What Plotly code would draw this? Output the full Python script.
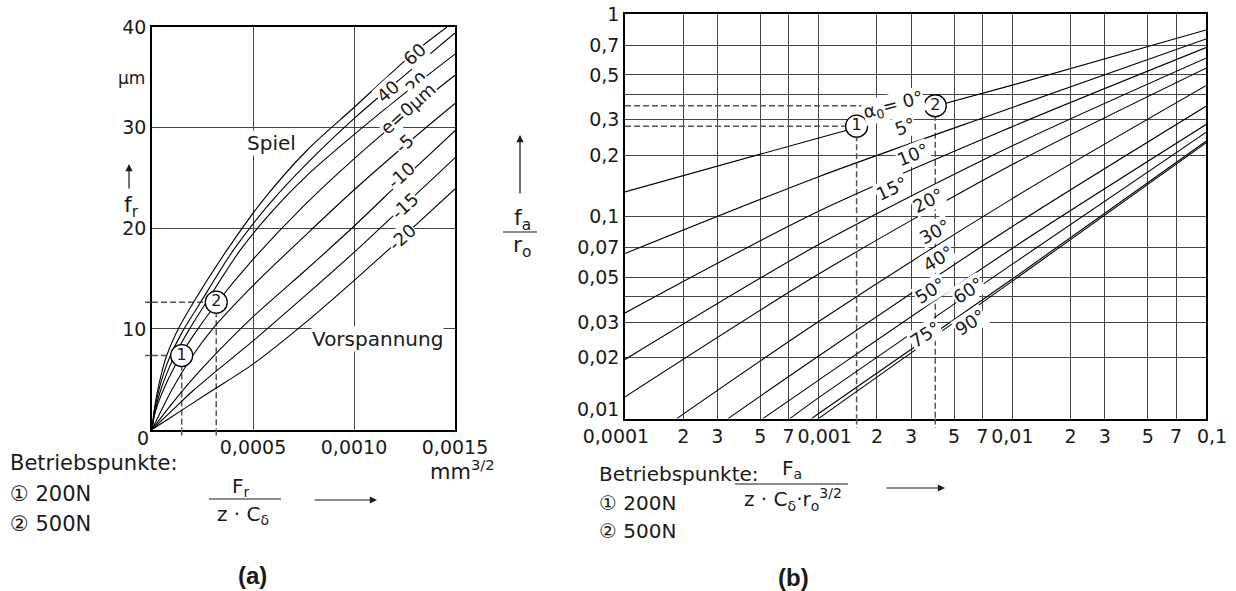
import plotly.graph_objects as go

W, H = 1236, 591


def px(x):
    return x / W


def py(y):
    return 1 - y / H


# ---------------- (a) radial deflection ----------------
a_x_ticks = [0.0005, 0.0010, 0.0015]
a_x_text = ["0,0005", "0,0010", "0,0015"]
a_y_ticks = [10, 20, 30, 40]
a_y_text = ["10", "20", "30", "40"]

e60_x = [0, 0.00001, 0.000025, 0.000045, 0.00007, 0.00012, 0.00021, 0.00037, 0.00055, 0.00077, 0.001, 0.0013, 0.00146]
e60_y = [0, 1.8, 3.6, 5.4, 7.2, 9.6, 12.8, 17.8, 22.8, 27.8, 32.0, 37.5, 40.0]
e40_x = [0, 0.000012, 0.00003, 0.000055, 0.000088, 0.00015, 0.000236, 0.000402, 0.00058, 0.00077, 0.001, 0.00125, 0.0015]
e40_y = [0, 1.8, 3.6, 5.4, 7.2, 9.7, 12.5, 17.8, 22.4, 26.5, 30.9, 35.2, 39.4]
e20_x = [0, 0.000015, 0.000038, 0.00007, 0.000109, 0.00018, 0.000264, 0.000436, 0.0006, 0.00077, 0.001, 0.00125, 0.0015]
e20_y = [0, 1.8, 3.6, 5.4, 7.2, 9.8, 12.5, 17.8, 21.8, 25.3, 29.3, 33.4, 37.3]
e0_x = [0, 0.00001, 0.00003, 0.00006, 0.0001, 0.000147, 0.0002, 0.000318, 0.0005, 0.00075, 0.001, 0.00125, 0.0015]
e0_y = [0, 1.25, 2.6, 4.1, 5.8, 7.5, 9.2, 12.5, 16.9, 22.2, 26.9, 31.2, 35.2]
pre_x = [0, 0.0001, 0.0002, 0.0003, 0.0005, 0.00077, 0.001, 0.00125, 0.0015]
em5_y = [0, 4.0, 7.3, 10.0, 14.3, 19.5, 23.8, 28.2, 32.4]
em10_y = [0, 2.6, 5.0, 7.2, 11.2, 16.0, 20.2, 25.0, 29.7]
em15_y = [0, 1.9, 3.8, 5.5, 8.8, 13.5, 17.6, 22.3, 27.0]
em20_y = [0, 1.3, 2.6, 3.9, 6.5, 10.8, 14.8, 19.3, 23.9]

a_curve_labels = ["60", "40", "20", "e=0µm", "-5", "-10", "-15", "-20"]
a_pts_x = [0.000147, 0.000318]
a_pts_y = [7.35, 12.65]
a_pts_text = ["1", "2"]

# ---------------- (b) axial deflection ----------------
NB = "\u00a0"
b_x_ticks = [1e-4, 2e-4, 3e-4, 5e-4, 7e-4, 1e-3, 2e-3, 3e-3, 5e-3, 7e-3,
             1e-2, 2e-2, 3e-2, 5e-2, 7e-2, 1e-1]
b_x_text = ["0,0001" + NB * 3, "2", "3", "5", "7", NB * 2 + "0,001", "2", "3", "5", "7",
            "0,01", "2", "3", "5", "7", NB * 2 + "0,1"]
b_y_ticks = [0.01, 0.02, 0.03, 0.04, 0.05, 0.07, 0.1, 0.2, 0.3, 0.4, 0.5, 0.7, 1]
b_y_text = ["", "0,02", "0,03", "", "0,05", "0,07", "0,1", "0,2", "0,3", "", "0,5", "0,7", "1"]
b_y_bottom_label = "0,01"

a00_x = [1e-4, 1e-3, 1e-2, 1e-1]
a00_y = [0.132, 0.244, 0.445, 0.834]
a05_x = [1e-4, 1e-3, 1e-2, 1e-1]
a05_y = [0.0655, 0.157, 0.345, 0.753]
a10_x = [1e-4, 1e-3, 1e-2, 1e-1]
a10_y = [0.0333, 0.106, 0.2775, 0.682]
a15_x = [1e-4, 1e-3, 1e-2, 1e-1]
a15_y = [0.0196, 0.0725, 0.223, 0.605]
a20_x = [1e-4, 1e-3, 1e-2, 1e-1]
a20_y = [0.0128, 0.0518, 0.1803, 0.540]
a30_x = [1.85e-4, 1e-3, 1e-2, 1e-1]
a30_y = [0.01, 0.0302, 0.1223, 0.442]
a40_x = [3.4e-4, 1e-3, 1e-2, 1e-1]
a40_y = [0.01, 0.0204, 0.089, 0.350]
a50_x = [5.15e-4, 1e-3, 1e-2, 1e-1]
a50_y = [0.01, 0.0155, 0.0695, 0.284]
a60_x = [7.1e-4, 1e-3, 1e-2, 1e-1]
a60_y = [0.01, 0.0127, 0.058, 0.260]
a75_x = [9.2e-4, 1e-3, 1e-2, 1e-1]
a75_y = [0.01, 0.0106, 0.049, 0.235]
a90_x = [9.96e-4, 1e-2, 1e-1]
a90_y = [0.01, 0.0478, 0.2307]

b_pts_x = [1.57e-3, 4.0e-3]
b_pts_y = [0.279, 0.352]
b_pts_text = ["1", "2"]

# ---------------- figure ----------------
FONT = "DejaVu Sans"
INK = "#1a1a1a"
fig = go.Figure()

line_style = dict(color="black", width=1.1, shape="spline", smoothing=0.8)
dash_style = dict(color="#555", width=1.5, dash="6px,3px")

for xv, yv in zip(a_pts_x, a_pts_y):
    fig.add_trace(go.Scatter(x=[0, xv], y=[yv, yv], mode="lines", line=dash_style,
                             xaxis="x", yaxis="y", hoverinfo="skip"))
    fig.add_trace(go.Scatter(x=[xv, xv], y=[yv, 0], mode="lines", line=dash_style,
                             xaxis="x", yaxis="y", hoverinfo="skip"))

for xs, ys in [(e60_x, e60_y), (e40_x, e40_y), (e20_x, e20_y), (e0_x, e0_y),
               (pre_x, em5_y), (pre_x, em10_y), (pre_x, em15_y), (pre_x, em20_y)]:
    fig.add_trace(go.Scatter(x=xs, y=ys, mode="lines", line=line_style,
                             xaxis="x", yaxis="y", hoverinfo="skip"))

fig.add_trace(go.Scatter(x=a_pts_x, y=a_pts_y, mode="markers+text", text=a_pts_text,
                         textposition="middle center",
                         textfont=dict(family=FONT, size=16, color=INK),
                         marker=dict(size=22, color="white", line=dict(color="black", width=1.3)),
                         xaxis="x", yaxis="y", hoverinfo="skip"))

for xv, yv in zip(b_pts_x, b_pts_y):
    fig.add_trace(go.Scatter(x=[1e-4, xv], y=[yv, yv], mode="lines", line=dash_style,
                             xaxis="x2", yaxis="y2", hoverinfo="skip"))
    fig.add_trace(go.Scatter(x=[xv, xv], y=[yv, 0.01], mode="lines", line=dash_style,
                             xaxis="x2", yaxis="y2", hoverinfo="skip"))

for xs, ys in [(a00_x, a00_y), (a05_x, a05_y), (a10_x, a10_y), (a15_x, a15_y),
               (a20_x, a20_y), (a30_x, a30_y), (a40_x, a40_y), (a50_x, a50_y),
               (a60_x, a60_y), (a75_x, a75_y), (a90_x, a90_y)]:
    fig.add_trace(go.Scatter(x=xs, y=ys, mode="lines", line=line_style,
                             xaxis="x2", yaxis="y2", hoverinfo="skip"))

fig.add_trace(go.Scatter(x=b_pts_x, y=b_pts_y, mode="markers+text", text=b_pts_text,
                         textposition="middle center",
                         textfont=dict(family=FONT, size=16, color=INK),
                         marker=dict(size=22, color="white", line=dict(color="black", width=1.3)),
                         xaxis="x2", yaxis="y2", hoverinfo="skip"))

axis_common = dict(showline=True, mirror=True, linecolor="black", linewidth=1.5,
                   showgrid=True, gridcolor="#444", gridwidth=1.1, zeroline=False,
                   ticks="", automargin=False,
                   tickfont=dict(family=FONT, size=19, color=INK))

fig.update_layout(
    width=W, height=H, margin=dict(l=0, r=0, t=0, b=0, autoexpand=False),
    paper_bgcolor="white", plot_bgcolor="white", showlegend=False,
    font=dict(family=FONT, color=INK),
    xaxis=dict(domain=[px(152), px(455)], range=[0, 0.0015], anchor="y", tickangle=0,
               tickmode="array", tickvals=a_x_ticks, ticktext=a_x_text, **axis_common),
    yaxis=dict(domain=[py(429.5), py(27)], range=[0, 40], anchor="x",
               tickmode="array", tickvals=a_y_ticks, ticktext=a_y_text, **axis_common),
    xaxis2=dict(domain=[px(625), px(1206)], type="log", range=[-4, -1], anchor="y2", tickangle=0,
                tickmode="array", tickvals=b_x_ticks, ticktext=b_x_text, **axis_common),
    yaxis2=dict(domain=[py(418.6), py(14)], type="log", range=[-2, 0], anchor="x2",
                tickmode="array", tickvals=b_y_ticks, ticktext=b_y_text, **axis_common),
)

shapes = []
tail = dict(type="line", line=dict(color="#555", width=1.5, dash="6px,3px"))
for xv, yv in zip(a_pts_x, a_pts_y):
    shapes.append(dict(tail, xref="x", yref="paper", x0=xv, x1=xv, y0=py(429.5), y1=py(438)))
    shapes.append(dict(tail, xref="paper", yref="y", x0=px(145), x1=px(152), y0=yv, y1=yv))
for xv in b_pts_x:
    shapes.append(dict(tail, xref="x2", yref="paper", x0=xv, x1=xv, y0=py(418.6), y1=py(428)))
frac = dict(type="line", xref="paper", yref="paper", line=dict(color=INK, width=1.2))
shapes.append(dict(frac, x0=px(209), x1=px(281), y0=py(499), y1=py(499)))
shapes.append(dict(frac, x0=px(503), x1=px(537), y0=py(232), y1=py(232)))
shapes.append(dict(frac, x0=px(735), x1=px(848), y0=py(484), y1=py(484)))
fig.update_layout(shapes=shapes)

ann = []


def T(text, x, y, size=19, xanchor="center", angle=0, bg=None, bold=False, family=FONT):
    d = dict(text=text, x=px(x), y=py(y), xref="paper", yref="paper", showarrow=False,
             xanchor=xanchor, yanchor="middle", textangle=angle,
             font=dict(family=family, size=size, color=INK))
    if bg:
        d.update(bgcolor=bg, borderpad=0)
    if bold:
        d["text"] = "<b>" + text + "</b>"
    ann.append(d)


def ARROW(hx, hy, dx, dy):
    ann.append(dict(text="", x=px(hx), y=py(hy), xref="paper", yref="paper", showarrow=True,
                    ax=dx, ay=dy, arrowhead=2, arrowsize=1.2, arrowwidth=1.2, arrowcolor=INK,
                    standoff=0))


a_lab_pos = [(414, 54), (388, 92), (416, 83), (408, 109), (404, 143), (401, 176), (404, 206), (402, 238)]
for txt, (x, y) in zip(a_curve_labels, a_lab_pos):
    T(txt, x, y, size=18, angle=-42, bg="white")
T("Spiel", 271, 143, size=20, bg="white")
T("Vorspannung", 378, 339, size=20, bg="white")
T("0", 143, 438, size=19)
T("µm", 147, 78, size=17, xanchor="right")
T("f<sub>r</sub>", 131, 206, size=22)
ARROW(129, 164, 0, 26)
T("Betriebspunkte:", 8, 463, size=21, xanchor="left")
T("① 200N", 8, 494, size=21, xanchor="left")
T("② 500N", 8, 524, size=21, xanchor="left")
T("F<sub>r</sub>", 241, 487, size=20)
T("z · C<sub>δ</sub>", 243, 515, size=20)
ARROW(377, 500, -64, 0)
T("mm<sup>3/2</sup>", 462, 470, size=21)
T("(a)", 252, 575, size=24, bold=True, family="Liberation Sans")

b_labels = ["α<sub>0</sub>= 0°", "5°", "10°", "15°", "20°", "30°", "40°", "50°", "60°", "75°", "90°"]
b_lab_pos = [(893, 106), (905, 127), (913, 155), (892, 189), (928, 200), (935, 232),
             (938, 258), (930, 290), (968, 290), (925, 334), (970, 322)]
b_lab_ang = [-15, -20, -22, -25, -27, -29, -31, -32, -33, -33, -33]
for txt, (x, y), ang in zip(b_labels, b_lab_pos, b_lab_ang):
    T(txt, x, y, size=18, angle=ang, bg="white")
T(b_y_bottom_label, 621, 409, size=19, xanchor="right")
T("f<sub>a</sub>", 522, 219, size=22)
T("r<sub>o</sub>", 522, 246, size=22)
ARROW(520, 135, 0, 60)
T("Betriebspunkte:", 597, 474, size=20, xanchor="left")
T("① 200N", 597, 503, size=20, xanchor="left")
T("② 500N", 597, 531, size=20, xanchor="left")
T("F<sub>a</sub>", 792, 469, size=20)
T("z · C<sub>δ</sub>·r<sub>o</sub><sup>3/2</sup>", 793, 499, size=20)
ARROW(945, 488, -60, 0)
T("(b)", 793, 577, size=24, bold=True, family="Liberation Sans")

fig.update_layout(annotations=ann)
fig.write_html("out.html")
